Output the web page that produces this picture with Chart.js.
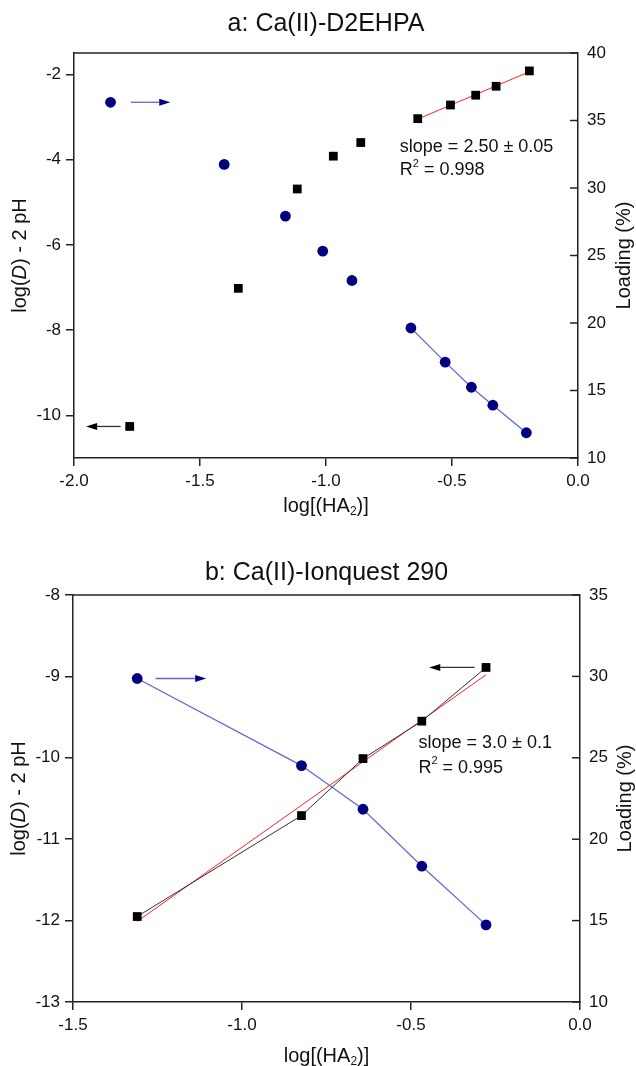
<!DOCTYPE html>
<html>
<head>
<meta charset="utf-8">
<script src="https://cdn.jsdelivr.net/npm/chart.js@4/dist/chart.umd.min.js"></script>
<style>
  html, body { margin: 0; padding: 0; background: #fff; }
  #wrap { position: relative; width: 636px; height: 1066px; overflow: hidden; }
  canvas { position: absolute; left: 0; }
</style>
</head>
<body>
<div id="wrap">
  <canvas id="chartA" width="636" height="530" style="top:0"></canvas>
  <canvas id="chartB" width="636" height="536" style="top:530px"></canvas>
</div>
<script>
// panel a: Ca(II)-D2EHPA
const xA      = [-1.779, -1.348, -1.114, -0.971, -0.862, -0.636, -0.506, -0.406, -0.325, -0.193];
const logDA   = [-10.26, -7.02, -4.69, -3.92, -3.60, -3.04, -2.72, -2.49, -2.28, -1.92];
const xLoadA  = [-1.855, -1.404, -1.161, -1.013, -0.897, -0.663, -0.527, -0.423, -0.338, -0.205];
const loadA   = [36.35, 31.75, 27.92, 25.32, 23.15, 19.63, 17.10, 15.24, 13.91, 11.87];
const fitXA   = [-0.636, -0.193];
const fitYA   = [-3.05, -1.94];
const xTicksA = [-2.0, -1.5, -1.0, -0.5, 0.0];
const yTicksA = [-10, -8, -6, -4, -2];
const rTicksA = [10, 15, 20, 25, 30, 35, 40];

// panel b: Ca(II)-Ionquest 290
const xB      = [-1.310, -0.824, -0.642, -0.468, -0.278];
const logDB   = [-11.95, -10.71, -10.01, -9.55, -8.89];
const loadB   = [29.87, 24.52, 21.84, 18.34, 14.74];
const fitXB   = [-1.310, -0.278];
const fitYB   = [-12.01, -8.98];
const xTicksB = [-1.5, -1.0, -0.5, 0.0];
const yTicksB = [-13, -12, -11, -10, -9, -8];
const rTicksB = [10, 15, 20, 25, 30, 35];

const INK = '#222';
const NAVY = '#000080';
const BLUE_LINE = '#6464d2';
const FONT = '"Liberation Sans", Arial, Helvetica, sans-serif';

const pts = (xs, ys) => xs.map((x, i) => ({ x: x, y: ys[i] }));

// text with italic / sub / sup pieces
function drawRich(ctx, parts, x, y, size, opts) {
  opts = opts || {};
  ctx.save();
  ctx.translate(x, y);
  if (opts.rot) ctx.rotate(opts.rot);
  const items = parts.map(p => {
    const small = p.sub || p.sup;
    const font = (p.it ? 'italic ' : '') + (small ? Math.round(size * 0.62) : size) + 'px ' + FONT;
    ctx.font = font;
    return { t: p.t, font: font, w: ctx.measureText(p.t).width,
             dy: p.sub ? size * 0.28 : (p.sup ? -size * 0.36 : 0) };
  });
  const total = items.reduce((s, it) => s + it.w, 0);
  let cx = opts.align === 'left' ? 0 : -total / 2;
  ctx.fillStyle = '#111';
  ctx.textBaseline = 'middle';
  ctx.textAlign = 'left';
  items.forEach(it => { ctx.font = it.font; ctx.fillText(it.t, cx, it.dy); cx += it.w; });
  ctx.restore();
}

function drawArrow(ctx, x0, y0, x1, y1, lineColor, headColor) {
  const ang = Math.atan2(y1 - y0, x1 - x0), L = 11, W = 3.5;
  ctx.save();
  ctx.strokeStyle = lineColor;
  ctx.lineWidth = 1.3;
  ctx.beginPath();
  ctx.moveTo(x0, y0);
  ctx.lineTo(x1 - L * Math.cos(ang), y1 - L * Math.sin(ang));
  ctx.stroke();
  ctx.translate(x1, y1);
  ctx.rotate(ang);
  ctx.fillStyle = headColor;
  ctx.beginPath();
  ctx.moveTo(0, 0); ctx.lineTo(-L, -W); ctx.lineTo(-L, W);
  ctx.closePath();
  ctx.fill();
  ctx.restore();
}

// frame top, inward right ticks, titles, arrows, fit notes
const deco = {
  id: 'deco',
  afterDraw(chart, args, o) {
    const ctx = chart.ctx, a = chart.chartArea;
    const sx = chart.scales.x, sy = chart.scales.y, sr = chart.scales.y1;
    ctx.save();
    ctx.strokeStyle = INK;
    ctx.lineWidth = 1.5;
    ctx.beginPath(); ctx.moveTo(a.left, a.top); ctx.lineTo(a.right, a.top); ctx.stroke();
    sr.ticks.forEach(t => {
      const py = sr.getPixelForValue(t.value);
      ctx.beginPath(); ctx.moveTo(a.right - o.tick, py); ctx.lineTo(a.right, py); ctx.stroke();
    });
    ctx.restore();

    const cx = (a.left + a.right) / 2, cy = (a.top + a.bottom) / 2;
    drawRich(ctx, [{ t: o.title }], cx, o.titleY, 25);
    drawRich(ctx, [{ t: 'log(' }, { t: 'D', it: true }, { t: ') - 2 pH' }], o.yTitleX, cy, 20, { rot: -Math.PI / 2 });
    drawRich(ctx, [{ t: 'Loading (%)' }], o.rTitleX, cy, 20, { rot: -Math.PI / 2 });
    drawRich(ctx, [{ t: 'log[(HA' }, { t: '2', sub: true }, { t: ')]' }], cx, o.xTitleY, 20);

    o.arrows.forEach(ar => {
      const s = chart.scales[ar.axis];
      drawArrow(ctx, sx.getPixelForValue(ar.x0), s.getPixelForValue(ar.y),
                sx.getPixelForValue(ar.x1), s.getPixelForValue(ar.y), ar.line, ar.head);
    });
    o.notes.forEach(n => {
      drawRich(ctx, n.parts, sx.getPixelForValue(n.x), sy.getPixelForValue(n.y), 18, { align: 'left' });
    });
  }
};

function makeChart(id, cfg) {
  const tickFont = { size: 17, family: FONT };
  const fixTicks = list => s => { s.ticks = list.map(v => ({ value: v })); };
  return new Chart(document.getElementById(id), {
    type: 'scatter',
    data: { datasets: cfg.datasets },
    options: {
      responsive: false,
      animation: false,
      events: [],
      layout: { padding: { top: cfg.top, left: 0, right: 0, bottom: 0 } },
      plugins: { legend: { display: false }, tooltip: { enabled: false }, deco: cfg.deco },
      scales: {
        x: {
          type: 'linear', min: cfg.xRange[0], max: cfg.xRange[1],
          afterBuildTicks: fixTicks(cfg.xTicks),
          afterFit: s => { s.height = cfg.bottom; },
          grid: { drawOnChartArea: false, tickLength: 8, color: INK, lineWidth: 1.5 },
          border: { color: INK, width: 1.5 },
          ticks: { font: tickFont, color: '#111', padding: 5, autoSkip: false, maxRotation: 0,
                   callback: v => Number(v).toFixed(1) }
        },
        y: {
          type: 'linear', position: 'left', min: cfg.yRange[0], max: cfg.yRange[1],
          afterBuildTicks: fixTicks(cfg.yTicks),
          afterFit: s => { s.width = cfg.left; },
          grid: { drawOnChartArea: false, tickLength: 8, color: INK, lineWidth: 1.5 },
          border: { color: INK, width: 1.5 },
          ticks: { font: tickFont, color: '#111', padding: 5, autoSkip: false }
        },
        y1: {
          type: 'linear', position: 'right', min: cfg.rRange[0], max: cfg.rRange[1],
          afterBuildTicks: fixTicks(cfg.rTicks),
          afterFit: s => { s.width = cfg.right; },
          grid: { display: false, drawTicks: false },
          border: { color: INK, width: 1.5 },
          ticks: { font: tickFont, color: '#111', padding: 9, autoSkip: false }
        }
      }
    },
    plugins: [deco]
  });
}

makeChart('chartA', {
  top: 53, bottom: 72, left: 74, right: 58,
  xRange: [-2, 0], yRange: [-11, -1.5], rRange: [10, 40],
  xTicks: xTicksA, yTicks: yTicksA, rTicks: rTicksA,
  datasets: [
    { data: pts(xA, logDA), yAxisID: 'y', showLine: false, pointStyle: 'rect',
      pointRadius: 6.2, backgroundColor: '#000', borderColor: '#000', borderWidth: 0, order: 0 },
    { data: pts(xLoadA, loadA), yAxisID: 'y1', showLine: false, pointStyle: 'circle',
      pointRadius: 5.4, backgroundColor: NAVY, borderColor: NAVY, borderWidth: 0, order: 0 },
    // only the last five loading points are joined in the original
    { data: pts(xLoadA.slice(5), loadA.slice(5)), yAxisID: 'y1', showLine: true, pointRadius: 0,
      borderColor: BLUE_LINE, borderWidth: 1.2, order: 1 },
    { data: pts(fitXA, fitYA), yAxisID: 'y', showLine: true, pointRadius: 0,
      borderColor: '#ff2020', borderWidth: 1, order: 1 }
  ],
  deco: {
    tick: 8, title: 'a: Ca(II)-D2EHPA', titleY: 24, yTitleX: 20, rTitleX: 624, xTitleY: 506,
    arrows: [
      { axis: 'y1', x0: -1.775, x1: -1.618, y: 36.35, line: BLUE_LINE, head: NAVY },
      { axis: 'y', x0: -1.815, x1: -1.952, y: -10.26, line: '#333', head: '#000' }
    ],
    notes: [
      { x: -0.707, y: -3.70, parts: [{ t: 'slope = 2.50 \u00b1 0.05' }] },
      { x: -0.707, y: -4.25, parts: [{ t: 'R' }, { t: '2', sup: true }, { t: ' = 0.998' }] }
    ]
  }
});

makeChart('chartB', {
  top: 65, bottom: 64, left: 73, right: 56,
  xRange: [-1.5, 0], yRange: [-13, -8], rRange: [10, 35],
  xTicks: xTicksB, yTicks: yTicksB, rTicks: rTicksB,
  datasets: [
    { data: pts(xB, logDB), yAxisID: 'y', showLine: true, pointStyle: 'rect',
      pointRadius: 6.2, backgroundColor: '#000', pointBorderWidth: 0, borderColor: '#333', borderWidth: 1, order: 0 },
    { data: pts(xB, loadB), yAxisID: 'y1', showLine: true, pointStyle: 'circle',
      pointRadius: 5.4, backgroundColor: NAVY, pointBorderWidth: 0, borderColor: BLUE_LINE, borderWidth: 1.2, order: 0 },
    { data: pts(fitXB, fitYB), yAxisID: 'y', showLine: true, pointRadius: 0,
      borderColor: '#ff2020', borderWidth: 1, order: 1 }
  ],
  deco: {
    tick: 8, title: 'b: Ca(II)-Ionquest 290', titleY: 43, yTitleX: 19, rTitleX: 625, xTitleY: 526,
    arrows: [
      { axis: 'y1', x0: -1.256, x1: -1.106, y: 29.87, line: BLUE_LINE, head: NAVY },
      { axis: 'y', x0: -0.312, x1: -0.446, y: -8.89, line: '#333', head: '#000' }
    ],
    notes: [
      { x: -0.478, y: -9.82, parts: [{ t: 'slope = 3.0 \u00b1 0.1' }] },
      { x: -0.478, y: -10.12, parts: [{ t: 'R' }, { t: '2', sup: true }, { t: ' = 0.995' }] }
    ]
  }
});
</script>
</body>
</html>
